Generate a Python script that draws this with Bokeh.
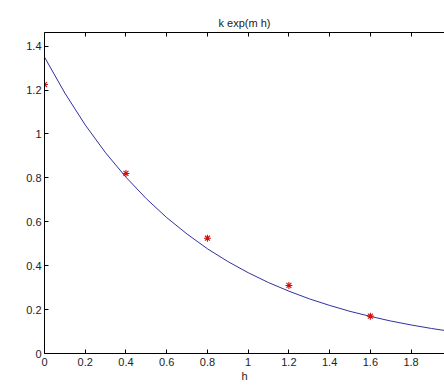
from bokeh.plotting import figure
from bokeh.models import Range1d, LinearAxis, FixedTicker, Label, CustomJSTickFormatter
from bokeh.embed import file_html
from bokeh.resources import INLINE

# data points (measured)
h_pts = [0.0, 0.4, 0.8, 1.2, 1.6]
v_pts = [1.225, 0.82, 0.525, 0.31, 0.17]

# fitted curve k*exp(m*h)
curve_h = [0.0, 0.1, 0.2, 0.3, 0.4, 0.5, 0.6, 0.7, 0.8, 0.9, 1.0,
           1.1, 1.2, 1.3, 1.4, 1.5, 1.6, 1.7, 1.8, 1.9, 2.0]
curve_v = [1.350, 1.186, 1.041, 0.914, 0.803, 0.705, 0.619, 0.544, 0.477, 0.419, 0.368,
           0.323, 0.284, 0.249, 0.219, 0.192, 0.169, 0.148, 0.130, 0.114, 0.100]

x_ticks = [0.0, 0.2, 0.4, 0.6, 0.8, 1.0, 1.2, 1.4, 1.6, 1.8, 2.0]
x_tick_labels = ["0", "0.2", "0.4", "0.6", "0.8", "1", "1.2", "1.4", "1.6", "1.8", "2"]
y_ticks = [0.0, 0.2, 0.4, 0.6, 0.8, 1.0, 1.2, 1.4]
y_tick_labels = ["0", "0.2", "0.4", "0.6", "0.8", "1", "1.2", "1.4"]

title_text = "k exp(m h)"
x_label = "h"
exp_text = "x 10"

FONT = "Liberation Sans"
TXT = "#222222"

p = figure(width=444, height=387, output_backend="svg", toolbar_location=None,
           x_range=Range1d(0, 1.964), y_range=Range1d(0, 1.462),
           x_axis_location="below", y_axis_location="left",
           min_border_left=44, min_border_right=0, min_border_top=32, min_border_bottom=34)
p.outline_line_color = None
p.grid.visible = False
p.background_fill_color = "white"
p.border_fill_color = "white"

p.title.text = title_text
p.title.align = "center"
p.title.offset = 5
p.title.text_font = FONT
p.title.text_font_size = "11px"
p.title.text_font_style = "normal"
p.title.text_color = TXT
p.title.standoff = 8

p.line(curve_h, curve_v, line_color="#30309f", line_width=1)
p.scatter(h_pts, v_pts, marker="asterisk", size=7, line_color="#d01010", line_width=1.1)

xa = p.xaxis[0]
xa.ticker = FixedTicker(ticks=x_ticks)
xa.major_label_overrides = {t: s for t, s in zip(x_ticks, x_tick_labels)}
xa.axis_label = x_label
ya = p.yaxis[0]
ya.ticker = FixedTicker(ticks=y_ticks)
ya.major_label_overrides = {t: s for t, s in zip(y_ticks, y_tick_labels)}

for ax in (xa, ya):
    ax.major_tick_in = 4
    ax.major_tick_out = 0
    ax.minor_tick_in = 0
    ax.minor_tick_out = 0
    ax.axis_line_color = "black"
    ax.major_tick_line_color = "black"
    ax.major_label_text_font = FONT
    ax.major_label_text_font_size = "11px"
    ax.major_label_text_color = TXT
    ax.axis_label_text_font = FONT
    ax.axis_label_text_font_size = "11px"
    ax.axis_label_text_font_style = "normal"
    ax.axis_label_text_color = TXT
    ax.major_label_standoff = 4
xa.axis_label_standoff = 1
ya.major_label_standoff = 3

top = LinearAxis(ticker=FixedTicker(ticks=x_ticks), major_tick_in=4, major_tick_out=0,
                 minor_tick_in=0, minor_tick_out=0,
                 formatter=CustomJSTickFormatter(code="return ''"),
                 major_label_standoff=0, axis_line_color="black")
p.add_layout(top, "above")

p.add_layout(Label(x=1.836, y=-0.118, text=exp_text, text_align="left", text_baseline="middle",
                   text_font=FONT, text_font_size="11px", text_color=TXT))

open("out.html", "w").write(file_html(p, INLINE))
